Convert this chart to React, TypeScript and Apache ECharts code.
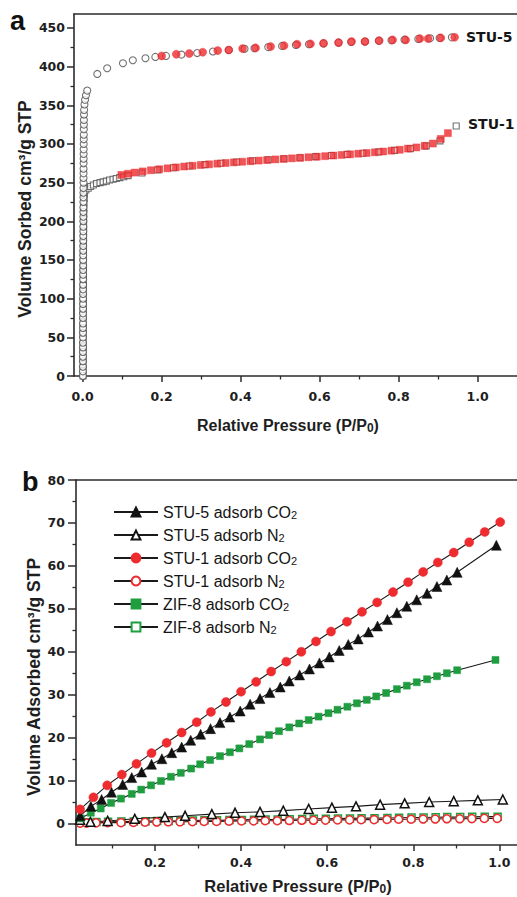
import { useEffect, useRef } from 'react';
import * as echarts from 'echarts';

// ---------------- Panel a : N2 sorption isotherms ----------------
const aXTicks = [0, 0.2, 0.4, 0.6, 0.8, 1.0];
const aXMinor = [0.1, 0.3, 0.5, 0.7, 0.9];
const aYTicks = [0, 50, 100, 150, 200, 250, 300, 350, 400, 450];
const aYMinor = [25, 75, 125, 175, 225, 275, 325, 375, 425];

// STU-5 adsorption, steep low-pressure rise (open circles)
const stu5ColP = [
  0.0005, 0.0005, 0.0006, 0.0006, 0.0006, 0.0006, 0.0007, 0.0007, 0.0007, 0.0007,
  0.0008, 0.0008, 0.0008, 0.0008, 0.0009, 0.0009, 0.0009, 0.001, 0.001, 0.001,
  0.0011, 0.0011, 0.0011, 0.0012, 0.0012, 0.0012, 0.0013, 0.0013, 0.0014, 0.0014,
  0.0015, 0.0015, 0.0016, 0.0016, 0.0017, 0.0017, 0.0018, 0.0018, 0.0019, 0.002,
  0.0021, 0.0021, 0.0022, 0.0022, 0.0023, 0.0024, 0.0024, 0.0025, 0.0026, 0.0027,
  0.0028, 0.0029, 0.003, 0.0031, 0.0033, 0.0036, 0.0045, 0.006, 0.0083, 0.0115,
];
const stu5ColV = [
  0, 6, 12, 19, 25, 31, 37, 43, 50, 56,
  62, 68, 75, 81, 87, 93, 100, 106, 112, 118,
  125, 131, 137, 143, 150, 156, 162, 168, 175, 181,
  187, 193, 200, 206, 212, 218, 225, 231, 237, 243,
  250, 256, 262, 268, 275, 281, 287, 293, 300, 306,
  312, 319, 325, 331, 338, 344, 351, 357, 363, 369,
];
// STU-5 adsorption plateau (open circles)
const stu5AdsP = [
  0.037, 0.062, 0.102, 0.127, 0.159, 0.184, 0.211, 0.25, 0.29, 0.33,
  0.37, 0.41, 0.435, 0.47, 0.505, 0.54, 0.573, 0.61, 0.648, 0.68,
  0.715, 0.75, 0.782, 0.815, 0.85, 0.88, 0.904, 0.935,
];
const stu5AdsV = [
  390.5, 397.9, 404.3, 408.2, 410.8, 412.5, 413.8, 415.5, 417.5, 419.5,
  421.5, 423.0, 423.7, 425.2, 426.7, 428.0, 428.9, 430.0, 431.0, 431.8,
  432.4, 433.3, 434.0, 434.8, 435.8, 436.5, 437.1, 437.8,
];
// STU-5 desorption (red filled circles)
const stu5DesP = [
  0.942, 0.907, 0.875, 0.854, 0.818, 0.785, 0.751, 0.715, 0.681, 0.648,
  0.61, 0.577, 0.543, 0.51, 0.476, 0.438, 0.405, 0.37, 0.342, 0.304,
  0.27, 0.237, 0.2,
];
const stu5DesV = [
  437.9, 437.1, 436.2, 436.2, 434.5, 434.5, 433.6, 432.4, 432.4, 431.0,
  430.2, 429.4, 428.9, 427.1, 425.9, 424.2, 423.3, 421.5, 420.7, 418.6,
  417.0, 416.0, 413.8,
];

// STU-1 adsorption, steep low-pressure rise (open squares)
const stu1ColP = [
  0.001, 0.001, 0.001, 0.0011, 0.0011, 0.0011, 0.0012, 0.0012, 0.0012, 0.0013,
  0.0013, 0.0013, 0.0014, 0.0014, 0.0015, 0.0015, 0.0016, 0.0016, 0.0017, 0.0017,
  0.0018, 0.0019, 0.002, 0.0021, 0.0022, 0.0023, 0.0024, 0.0026, 0.0028, 0.0031,
  0.0035, 0.0042,
];
const stu1ColV = [
  0, 8, 15, 23, 31, 39, 47, 55, 62, 70,
  78, 86, 94, 101, 109, 117, 125, 133, 140, 148,
  156, 164, 172, 179, 187, 195, 203, 210, 217, 224,
  230, 235,
];
// STU-1 adsorption plateau (open squares)
const stu1AdsP = [
  0.008, 0.014, 0.02, 0.027, 0.035, 0.044, 0.052, 0.06, 0.068, 0.077,
  0.085, 0.094, 0.104, 0.115, 0.15, 0.19, 0.23, 0.27, 0.31, 0.35,
  0.39, 0.43, 0.47, 0.51, 0.55, 0.59, 0.63, 0.67, 0.71, 0.75,
  0.79, 0.83, 0.87, 0.905, 0.946,
];
const stu1AdsV = [
  240.5, 242.7, 245.0, 247.0, 248.8, 250.0, 251.0, 252.0, 253.3, 254.3,
  255.3, 256.4, 257.6, 259.0, 262.5, 266.5, 269.2, 271.5, 273.3, 275.0,
  276.7, 278.2, 279.5, 280.8, 282.2, 283.6, 285.0, 286.5, 288.0, 289.7,
  291.7, 294.0, 297.5, 304.0, 323.3,
];
// STU-1 desorption (red filled squares)
const stu1DesP = [
  0.925, 0.907, 0.887, 0.866, 0.845, 0.824, 0.803, 0.782, 0.761, 0.74,
  0.719, 0.698, 0.677, 0.656, 0.635, 0.614, 0.593, 0.572, 0.551, 0.53,
  0.509, 0.488, 0.467, 0.446, 0.425, 0.404, 0.383, 0.362, 0.341, 0.32,
  0.299, 0.278, 0.257, 0.236, 0.215, 0.194, 0.173, 0.152, 0.132, 0.115,
  0.098,
];
const stu1DesV = [
  314.0, 306.5, 300.5, 297.5, 295.5, 294.0, 292.5, 291.3, 290.2, 289.2,
  288.3, 287.4, 286.6, 285.8, 285.0, 284.2, 283.5, 282.8, 282.1, 281.4,
  280.7, 280.0, 279.2, 278.5, 277.7, 277.0, 276.2, 275.4, 274.5, 273.7,
  272.8, 271.8, 270.8, 269.7, 268.5, 267.3, 266.0, 264.5, 263.0, 261.5,
  260.0,
];

// ---------------- Panel b : CO2 / N2 adsorption ----------------
const bXTicks = [0.2, 0.4, 0.6, 0.8, 1.0];
const bXMinor = [0.1, 0.3, 0.5, 0.7, 0.9];
const bYTicks = [0, 10, 20, 30, 40, 50, 60, 70, 80];
const bYMinor = [5, 15, 25, 35, 45, 55, 65, 75];

const legendNames = [
  'STU-5 adsorb CO2',
  'STU-5 adsorb N2',
  'STU-1 adsorb CO2',
  'STU-1 adsorb N2',
  'ZIF-8 adsorb CO2',
  'ZIF-8 adsorb N2',
];

const stu5Co2P = [
  0.026, 0.051, 0.076, 0.099, 0.125, 0.146, 0.169, 0.192, 0.216, 0.239,
  0.262, 0.283, 0.306, 0.329, 0.351, 0.374, 0.398, 0.421, 0.444, 0.467,
  0.491, 0.512, 0.536, 0.559, 0.582, 0.605, 0.628, 0.649, 0.672, 0.696,
  0.717, 0.74, 0.762, 0.785, 0.808, 0.832, 0.855, 0.878, 0.902, 0.993,
];
const stu5Co2V = [
  1.8, 4.0, 5.6, 7.3, 9.1, 10.7, 12.0, 13.8, 15.1, 16.5,
  17.8, 19.4, 20.8, 22.1, 23.5, 24.8, 26.2, 27.8, 29.1, 30.5,
  31.8, 33.2, 34.6, 36.0, 37.4, 38.8, 40.3, 41.7, 43.0, 44.6,
  46.0, 47.5, 49.1, 50.6, 52.1, 53.6, 55.2, 56.7, 58.5, 64.8,
];
const stu5N2P = [
  0.026, 0.05, 0.09, 0.153, 0.223, 0.27, 0.332, 0.386, 0.444, 0.498,
  0.557, 0.611, 0.667, 0.723, 0.78, 0.837, 0.894, 0.95, 1.008,
];
const stu5N2V = [
  0.9, 0.4, 0.6, 1.1, 1.5, 1.8, 2.2, 2.5, 2.7, 3.0,
  3.4, 3.7, 4.0, 4.4, 4.7, 5.0, 5.2, 5.4, 5.6,
];
const stu1Co2P = [
  0.026, 0.057, 0.089, 0.123, 0.157, 0.192, 0.227, 0.262, 0.297, 0.33,
  0.365, 0.4, 0.435, 0.47, 0.505, 0.54, 0.574, 0.609, 0.646, 0.681,
  0.716, 0.753, 0.788, 0.823, 0.857, 0.894, 0.93, 0.966, 1.002,
];
const stu1Co2V = [
  3.3, 6.1, 8.9, 11.4, 13.9, 16.4, 18.8, 21.2, 23.6, 26.0,
  28.3, 30.7, 33.0, 35.4, 37.7, 40.0, 42.4, 44.7, 47.0, 49.3,
  51.5, 53.9, 56.2, 58.6, 60.8, 63.1, 65.5, 67.9, 70.2,
];
const stu1N2P = [
  0.026, 0.041, 0.063, 0.09, 0.121, 0.15, 0.177, 0.204, 0.231, 0.258,
  0.287, 0.314, 0.343, 0.372, 0.401, 0.429, 0.456, 0.484, 0.512, 0.541,
  0.568, 0.596, 0.624, 0.652, 0.679, 0.709, 0.739, 0.766, 0.795, 0.823,
  0.851, 0.878, 0.908, 0.936, 0.965, 0.995,
];
const stu1N2V = [
  0.1, 0.1, 0.15, 0.2, 0.2, 0.25, 0.3, 0.35, 0.4, 0.4,
  0.45, 0.5, 0.5, 0.55, 0.6, 0.6, 0.65, 0.65, 0.7, 0.75,
  0.75, 0.8, 0.85, 0.85, 0.9, 0.9, 0.95, 1.0, 1.0, 1.05,
  1.05, 1.1, 1.1, 1.15, 1.2, 1.2,
];
const zifCo2P = [
  0.028, 0.051, 0.074, 0.098, 0.121, 0.146, 0.168, 0.191, 0.214, 0.237,
  0.26, 0.284, 0.305, 0.328, 0.351, 0.374, 0.396, 0.419, 0.444, 0.465,
  0.488, 0.512, 0.535, 0.557, 0.58, 0.603, 0.624, 0.647, 0.669, 0.692,
  0.714, 0.737, 0.762, 0.785, 0.808, 0.832, 0.855, 0.878, 0.902, 0.991,
];
const zifCo2V = [
  1.2, 2.5, 3.5, 4.8, 5.8, 6.9, 7.9, 8.9, 9.9, 10.9,
  11.8, 12.8, 13.8, 14.8, 15.7, 16.6, 17.5, 18.5, 19.6, 20.6,
  21.5, 22.4, 23.3, 24.1, 24.9, 25.7, 26.5, 27.2, 28.0, 28.8,
  29.6, 30.4, 31.3, 32.1, 32.9, 33.6, 34.3, 35.0, 35.7, 38.1,
];
const zifN2P = [
  0.027, 0.042, 0.064, 0.091, 0.122, 0.151, 0.178, 0.205, 0.232, 0.259,
  0.288, 0.315, 0.344, 0.373, 0.402, 0.43, 0.457, 0.485, 0.513, 0.542,
  0.569, 0.597, 0.625, 0.653, 0.68, 0.71, 0.74, 0.767, 0.796, 0.824,
  0.852, 0.879, 0.909, 0.937, 0.966, 0.996,
];
const zifN2V = [
  0.3, 0.3, 0.35, 0.4, 0.45, 0.5, 0.55, 0.6, 0.6, 0.65,
  0.7, 0.75, 0.75, 0.8, 0.85, 0.9, 0.95, 0.95, 1.0, 1.05,
  1.1, 1.1, 1.15, 1.2, 1.25, 1.25, 1.3, 1.35, 1.4, 1.4,
  1.45, 1.5, 1.5, 1.55, 1.6, 1.6,
];

// ---------------- styling ----------------
const AX = '#2b2b2b';
const RED = '#ee2b2e';
const GREEN = '#1f9e40';
const OPEN_GRAY = '#4d4d4d';
const LINE = '#1a1a1a';
const TICK_FONT = {
  fontFamily: 'DejaVu Sans',
  fontWeight: 'bold' as const,
  fontSize: 12.5,
  color: '#1e1e1e',
};
const TITLE_FONT = 'Liberation Sans';

const zip = (p: number[], v: number[]) => p.map((x, i) => [x, v[i]]);

function xAxesFor(gridIndex: number, min: number, max: number, majors: number[], minors: number[], margin: number) {
  return [
    {
      type: 'value', gridIndex, min, max, position: 'bottom',
      axisLine: { show: true, onZero: false, lineStyle: { color: AX, width: 1.6 } },
      axisTick: { show: true, inside: false, length: 6, customValues: majors, lineStyle: { color: AX, width: 1.5 } },
      axisLabel: { show: true, customValues: majors, margin, formatter: (v: number) => v.toFixed(1), ...TICK_FONT },
      splitLine: { show: false },
    },
    {
      type: 'value', gridIndex, min, max, position: 'bottom',
      axisLine: { show: false, onZero: false },
      axisTick: { show: true, inside: false, length: 3.5, customValues: minors, lineStyle: { color: AX, width: 1.3 } },
      axisLabel: { show: false },
      splitLine: { show: false },
    },
    {
      type: 'value', gridIndex, min, max, position: 'top',
      axisLine: { show: true, onZero: false, lineStyle: { color: AX, width: 1.6 } },
      axisTick: { show: false },
      axisLabel: { show: false },
      splitLine: { show: false },
    },
  ];
}

function yAxesFor(gridIndex: number, min: number, max: number, majors: number[], minors: number[], margin: number, tick: number) {
  return [
    {
      type: 'value', gridIndex, min, max, position: 'left',
      axisLine: { show: true, onZero: false, lineStyle: { color: AX, width: 1.6 } },
      axisTick: { show: true, inside: false, length: tick, customValues: majors, lineStyle: { color: AX, width: 1.5 } },
      axisLabel: { show: true, customValues: majors, margin, formatter: (v: number) => String(v), ...TICK_FONT },
      splitLine: { show: false },
    },
    {
      type: 'value', gridIndex, min, max, position: 'left',
      axisLine: { show: false, onZero: false },
      axisTick: { show: true, inside: false, length: 3.5, customValues: minors, lineStyle: { color: AX, width: 1.3 } },
      axisLabel: { show: false },
      splitLine: { show: false },
    },
  ];
}

function scatterA(name: string, data: number[][], symbol: string, size: number, filled: boolean, z: number) {
  return {
    type: 'scatter', name, xAxisIndex: 0, yAxisIndex: 0, data, symbol, symbolSize: size, z,
    itemStyle: filled
      ? { color: RED, borderColor: RED, borderWidth: 0.5 }
      : { color: '#ffffff', borderColor: OPEN_GRAY, borderWidth: 1.1 },
    emphasis: { disabled: true },
  };
}

function lineB(name: string, data: number[][], symbol: string, size: number, color: string, filled: boolean, z: number) {
  return {
    type: 'line', name, xAxisIndex: 3, yAxisIndex: 2, data, symbol, symbolSize: size, z,
    showSymbol: true, showAllSymbol: true,
    lineStyle: { color: LINE, width: 1.1 },
    itemStyle: filled
      ? { color, borderColor: color, borderWidth: 0.5 }
      : { color: '#ffffff', borderColor: color, borderWidth: 1.5 },
    emphasis: { disabled: true },
  };
}

const subRich = (size: number, drop: number) => ({
  s: {
    fontSize: size, fontFamily: TITLE_FONT, fontWeight: 'bold', lineHeight: size,
    padding: [drop, 0, 0, 0], verticalAlign: 'bottom', fill: '#1e1e1e',
  },
});

export default function App() {
  const ref = useRef<HTMLDivElement>(null);

  useEffect(() => {
    if (!ref.current) return;
    const chart = echarts.init(ref.current, undefined, { renderer: 'svg' });

    const option: any = {
      animation: false,
      backgroundColor: '#ffffff',
      grid: [
        { left: 74, top: 14, right: -2, bottom: 521, containLabel: false },
        { left: 76, top: 480, right: 0, bottom: 52, containLabel: false },
      ],
      xAxis: [
        ...xAxesFor(0, -0.022, 1.1, aXTicks, aXMinor, 14),
        ...xAxesFor(1, 0.0165, 1.041, bXTicks, bXMinor, 11),
      ],
      yAxis: [
        ...yAxesFor(0, 0, 468, aYTicks, aYMinor, 9, 7),
        ...yAxesFor(1, -5, 80, bYTicks, bYMinor, 11, 8),
      ],
      legend: {
        orient: 'vertical',
        left: 113,
        top: 497,
        padding: 0,
        itemWidth: 44,
        itemHeight: 11,
        itemGap: 0,
        data: legendNames,
        selectedMode: false,
        formatter: (n: string) => n.replace(/2$/, '{s|2}'),
        textStyle: {
          fontFamily: TITLE_FONT,
          fontSize: 16,
          lineHeight: 16,
          color: '#151515',
          rich: {
            s: {
              fontSize: 11, fontFamily: TITLE_FONT, lineHeight: 11, padding: [12, 0, 0, 0],
              verticalAlign: 'bottom', color: '#151515',
            },
          },
        },
      },
      series: [
        scatterA('STU-5 ads', zip(stu5ColP, stu5ColV), 'circle', 7, false, 3),
        scatterA('STU-5 ads plateau', zip(stu5AdsP, stu5AdsV), 'circle', 7, false, 3),
        scatterA('STU-1 ads', zip(stu1ColP, stu1ColV), 'rect', 6, false, 2),
        scatterA('STU-1 ads plateau', zip(stu1AdsP, stu1AdsV), 'rect', 6, false, 2),
        scatterA('STU-5 des', zip(stu5DesP, stu5DesV), 'circle', 8, true, 4),
        scatterA('STU-1 des', zip(stu1DesP, stu1DesV), 'rect', 7, true, 4),

        lineB('ZIF-8 adsorb N2', zip(zifN2P, zifN2V), 'rect', 7, GREEN, false, 2),
        lineB('STU-1 adsorb N2', zip(stu1N2P, stu1N2V), 'circle', 8, RED, false, 3),
        lineB('STU-5 adsorb N2', zip(stu5N2P, stu5N2V), 'triangle', 9, '#111111', false, 3),
        lineB('ZIF-8 adsorb CO2', zip(zifCo2P, zifCo2V), 'rect', 7, GREEN, true, 3),
        lineB('STU-5 adsorb CO2', zip(stu5Co2P, stu5Co2V), 'triangle', 10, '#111111', true, 3),
        lineB('STU-1 adsorb CO2', zip(stu1Co2P, stu1Co2V), 'circle', 9, RED, true, 4),
      ],
      graphic: [
        {
          type: 'text', x: 10, y: 21,
          style: { text: 'a', fontFamily: TITLE_FONT, fontWeight: 'bold', fontSize: 27, fill: '#111', align: 'left', verticalAlign: 'middle' },
        },
        {
          type: 'text', x: 22, y: 482,
          style: { text: 'b', fontFamily: TITLE_FONT, fontWeight: 'bold', fontSize: 27, fill: '#111', align: 'left', verticalAlign: 'middle' },
        },
        {
          type: 'text', x: 466, y: 37,
          style: { text: 'STU-5', fontFamily: 'DejaVu Sans', fontWeight: 'bold', fontSize: 14, fill: '#151515', align: 'left', verticalAlign: 'middle' },
        },
        {
          type: 'text', x: 468, y: 124,
          style: { text: 'STU-1', fontFamily: 'DejaVu Sans', fontWeight: 'bold', fontSize: 14, fill: '#151515', align: 'left', verticalAlign: 'middle' },
        },
        {
          type: 'text', x: 288, y: 425,
          style: {
            text: 'Relative Pressure (P/P{s|0})', fontFamily: TITLE_FONT, fontWeight: 'bold', fontSize: 16, lineHeight: 18,
            fill: '#1e1e1e', align: 'center', verticalAlign: 'middle', rich: subRich(12, 12),
          },
        },
        {
          type: 'text', x: 298, y: 886,
          style: {
            text: 'Relative Pressure (P/P{s|0})', fontFamily: TITLE_FONT, fontWeight: 'bold', fontSize: 16.5, lineHeight: 18,
            fill: '#1e1e1e', align: 'center', verticalAlign: 'middle', rich: subRich(12, 12),
          },
        },
        {
          type: 'text', x: 25, y: 209, rotation: Math.PI / 2,
          style: {
            text: 'Volume Sorbed cm³/g STP', fontFamily: TITLE_FONT, fontWeight: 'bold', fontSize: 17.5,
            fill: '#1e1e1e', align: 'center', verticalAlign: 'middle',
          },
        },
        {
          type: 'text', x: 34, y: 677, rotation: Math.PI / 2,
          style: {
            text: 'Volume Adsorbed cm³/g STP', fontFamily: TITLE_FONT, fontWeight: 'bold', fontSize: 17.5,
            fill: '#1e1e1e', align: 'center', verticalAlign: 'middle',
          },
        },
      ],
    };

    chart.setOption(option);
    return () => chart.dispose();
  }, []);

  return (
    <div
      ref={ref}
      style={{ position: 'fixed', left: 0, top: 0, width: 517, height: 897, background: '#fff' }}
    />
  );
}
